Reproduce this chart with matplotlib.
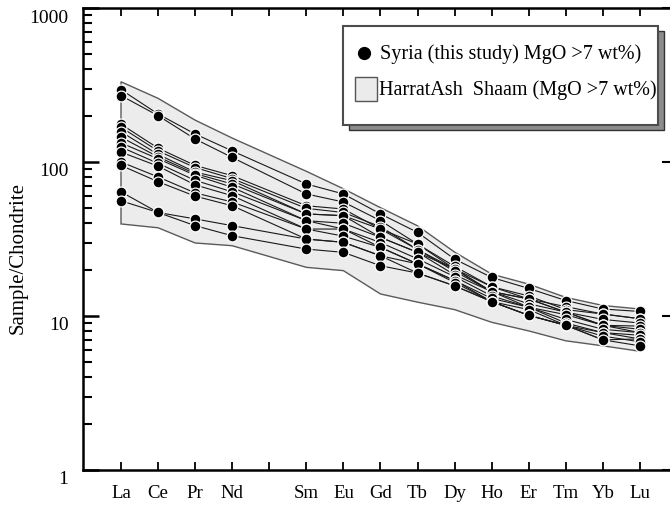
import matplotlib
matplotlib.use("Agg")
import matplotlib.pyplot as plt
from matplotlib.patches import Rectangle
from matplotlib.lines import Line2D
from matplotlib.ticker import FixedLocator, NullFormatter, LogLocator
from matplotlib.transforms import ScaledTranslation

plt.rcParams['font.family'] = ['Liberation Serif', 'DejaVu Serif']

# ---------------- data ----------------
elements = ['La', 'Ce', 'Pr', 'Nd', 'Sm', 'Eu', 'Gd', 'Tb', 'Dy', 'Ho', 'Er', 'Tm', 'Yb', 'Lu']
element_pos = [0, 1, 2, 3, 5, 6, 7, 8, 9, 10, 11, 12, 13, 14]   # Pm (4) left empty
tick_labels = ['La', 'Ce', 'Pr', 'Nd', '', 'Sm', 'Eu', 'Gd', 'Tb', 'Dy', 'Ho', 'Er', 'Tm', 'Yb', 'Lu']

# Harrat Ash Shaam envelope (MgO > 7 wt%)
envelope_upper = [332, 259, 187, 143, 87, 67, 50.5, 38.5, 26, 18.7, 16.1, 13.2, 11.7, 11.1]
envelope_lower = [39.6, 37.4, 29.8, 28.6, 20.7, 19.7, 13.9, 12.3, 11.0, 9.1, 8.0, 6.9, 6.4, 5.9]

# Syria (this study) samples, MgO > 7 wt%
syria_01 = [295, 205, 152, 118, 72, 62, 46, 34.9, 23.4, 17.8, 15.1, 12.6, 11.1, 10.7]
syria_02 = [270, 200, 141, 107, 62, 55, 41.6, 29.3, 20.2, 15.5, 12.9, 11.5, 10.3, 9.6]
syria_03 = [176, 123, 95, 81.5, 52, 49.5, 36.7, 29.3, 21, 15.5, 13.5, 11.0, 10.3, 9.6]
syria_04 = [168, 118, 92, 78, 50, 47, 38, 27, 20.2, 14.4, 12.9, 10.6, 9.5, 9.0]
syria_05 = [157, 112, 86, 75.6, 46, 44.8, 32.4, 25.9, 20.2, 14.4, 12.9, 10.6, 8.7, 8.6]
syria_06 = [145, 108, 84, 72, 46, 44.8, 36.7, 27, 19.5, 14.4, 12.0, 10.6, 8.7, 8.2]
syria_07 = [133, 105, 82, 68.5, 41.6, 40, 32.4, 25.9, 18.5, 14.4, 11.4, 10.2, 8.7, 7.8]
syria_08 = [125, 98, 76, 64, 41.6, 36.7, 30, 23.5, 18, 13.5, 11.4, 9.5, 8.2, 7.8]
syria_09 = [116, 94, 71, 60.4, 36.7, 36.7, 27.9, 21.8, 17, 13.0, 11.4, 9.0, 7.8, 7.5]
syria_10 = [100, 80, 63, 55, 36.7, 33, 27.9, 21.8, 17, 12.4, 11.0, 8.7, 7.8, 7.1]
syria_11 = [95, 74.5, 60, 52, 31.6, 30.1, 24.6, 19, 15.7, 12.4, 10.1, 8.7, 7.0, 7.1]
syria_12 = [64, 47, 42.7, 38.6, 31.6, 30.1, 24.6, 21.8, 16.5, 12.4, 10.1, 8.7, 7.4, 6.8]
syria_13 = [56, 47, 38.6, 33.2, 27.2, 25.9, 21.2, 19, 15.7, 12.4, 10.1, 8.7, 7.0, 6.4]

samples = [syria_01, syria_02, syria_03, syria_04, syria_05, syria_06, syria_07,
           syria_08, syria_09, syria_10, syria_11, syria_12, syria_13]

legend_labels = ['Syria (this study) MgO >7 wt%)', 'HarratAsh  Shaam (MgO >7 wt%)']

# ---------------- figure ----------------
W, H, DPI = 670, 506, 100
fig = plt.figure(figsize=(W / DPI, H / DPI), dpi=DPI)
fig.patch.set_facecolor('white')

def fx(px):
    return px / W

def fy(py):
    return 1 - py / H

ax = fig.add_axes([fx(83), fy(471), fx(670) - fx(83), fy(9) - fy(471)])
ax.set_yscale('log')
ax.set_ylim(1, 1000)
ax.set_xlim(-1.025, 14.81)

# envelope polygon
poly_x = element_pos + element_pos[::-1]
poly_y = envelope_upper + envelope_lower[::-1]
ax.fill(poly_x, poly_y, facecolor='#ececec', edgecolor='#5a5a5a', linewidth=1.0, zorder=1)

# sample lines
for s in samples:
    ax.plot(element_pos, s, color='#1a1a1a', linewidth=0.8, zorder=2)
for s in samples:
    ax.plot(element_pos, s, linestyle='none', marker='o', markersize=7.8,
            markerfacecolor='black', markeredgecolor='white', markeredgewidth=0.9, zorder=3)

# spines
for side in ['left', 'bottom', 'top']:
    ax.spines[side].set_linewidth(1.8)
ax.spines['right'].set_visible(False)

# x ticks
ax.set_xticks(range(15))
ax.set_xticklabels(tick_labels, fontsize=13.5)
ax.tick_params(axis='x', which='both', direction='in', top=True, bottom=True,
               length=5.5, width=1.3, pad=10)

# y ticks
ax.yaxis.set_major_locator(FixedLocator([1, 10, 100, 1000]))
ax.yaxis.set_minor_locator(LogLocator(base=10, subs=range(2, 10)))
ax.yaxis.set_minor_formatter(NullFormatter())
ax.set_yticklabels(['1', '10', '100', '1000'], fontsize=14)
ax.tick_params(axis='y', which='major', direction='in', left=True, right=False,
               length=11.5, width=1.8, pad=10.5)
ax.tick_params(axis='y', which='minor', direction='in', left=True, right=False,
               length=6.5, width=1.5)
shift = ScaledTranslation(0, -7 / DPI, fig.dpi_scale_trans)
for lbl in ax.get_yticklabels():
    lbl.set_transform(lbl.get_transform() + shift)

# right-side major ticks only
ax2 = ax.twinx()
ax2.set_yscale('log')
ax2.set_ylim(1, 1000)
ax2.yaxis.set_major_locator(FixedLocator([1, 10, 100, 1000]))
ax2.yaxis.set_minor_locator(FixedLocator([]))
ax2.set_yticklabels([])
ax2.tick_params(axis='y', which='major', direction='in', length=6, width=1.5)
for sp in ax2.spines.values():
    sp.set_visible(False)

ax.set_ylabel('Sample/Chondrite', fontsize=15)
ax.yaxis.set_label_coords(-0.094, 0.46)

# ---------------- legend (drawn box with shadow) ----------------
shadow = Rectangle((fx(349), fy(131)), fx(664) - fx(349), fy(32) - fy(131),
                   transform=fig.transFigure, facecolor='#8c8c8c', edgecolor='#333333',
                   linewidth=1.0, zorder=10)
box = Rectangle((fx(343), fy(126)), fx(658) - fx(343), fy(27) - fy(126),
                transform=fig.transFigure, facecolor='white', edgecolor='#4d4d4d',
                linewidth=1.5, zorder=11)
fig.patches.extend([shadow, box])
dot = Line2D([fx(364)], [fy(54)], transform=fig.transFigure, marker='o', markersize=8.5,
             markerfacecolor='black', markeredgecolor='black', linestyle='none', zorder=12)
fig.lines.append(dot)
sq = Rectangle((fx(355), fy(102)), fx(377) - fx(355), fy(78) - fy(102),
               transform=fig.transFigure, facecolor='#ebebeb', edgecolor='#555555',
               linewidth=1.0, zorder=12)
fig.patches.append(sq)
fig.text(fx(380), fy(54), legend_labels[0], fontsize=14.5, va='center', ha='left', zorder=12)
fig.text(fx(379), fy(90), legend_labels[1], fontsize=14.5, va='center', ha='left', zorder=12)

fig.savefig('out.png', dpi=DPI)
